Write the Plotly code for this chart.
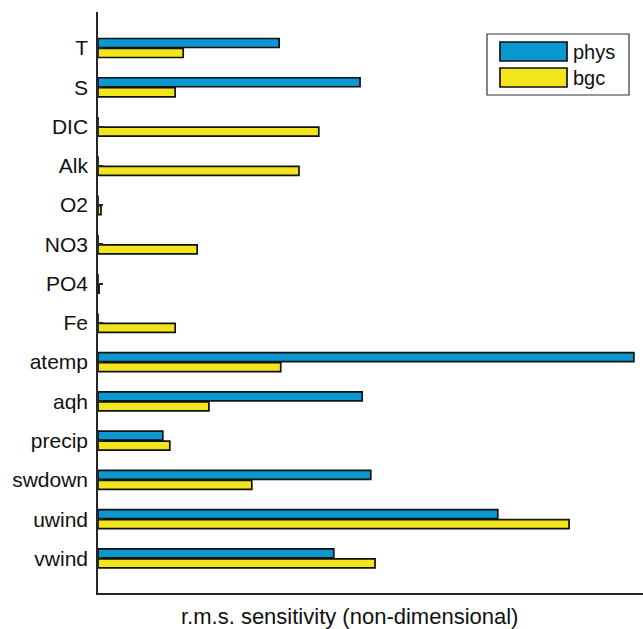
import plotly.graph_objects as go

# Control variables (top to bottom)
variables = ["T", "S", "DIC", "Alk", "O2", "NO3", "PO4", "Fe",
             "atemp", "aqh", "precip", "swdown", "uwind", "vwind"]

# r.m.s. sensitivity, non-dimensional (scaled so the largest is 1)
phys = [0.338, 0.489, 0.0, 0.0, 0.0, 0.0, 0.0, 0.0,
        1.000, 0.493, 0.121, 0.509, 0.746, 0.440]
bgc = [0.159, 0.144, 0.412, 0.375, 0.0056, 0.185, 0.002, 0.144,
       0.341, 0.207, 0.134, 0.287, 0.879, 0.517]

BLUE = "#0B97CF"
YELLOW = "#F2E51B"
FONT = "Liberation Sans, Arial, Helvetica, sans-serif"

fig = go.Figure()
fig.add_trace(go.Bar(y=variables, x=phys, orientation="h", name="phys",
                     marker=dict(color=BLUE, line=dict(color="#111111", width=1.7))))
fig.add_trace(go.Bar(y=variables, x=bgc, orientation="h", name="bgc",
                     marker=dict(color=YELLOW, line=dict(color="#111111", width=1.7))))

# Boxed legend drawn with shapes
legend_items = [("phys", BLUE), ("bgc", YELLOW)]
fig.add_shape(type="rect", xref="paper", yref="paper",
              x0=(487 - 98) / 545, x1=(629 - 98) / 545,
              y0=(593 - 95) / 581, y1=(593 - 34) / 581,
              line=dict(color="#333333", width=1.2), fillcolor="white")
for i, (name, col) in enumerate(legend_items):
    top = 42 + i * 26
    fig.add_shape(type="rect", xref="paper", yref="paper",
                  x0=(500 - 98) / 545, x1=(567 - 98) / 545,
                  y0=(593 - (top + 19)) / 581, y1=(593 - top) / 581,
                  line=dict(color="#111111", width=1.7), fillcolor=col)
    fig.add_annotation(xref="paper", yref="paper",
                       x=(571 - 98) / 545, y=(593 - (top + 9.5)) / 581,
                       text=name, showarrow=False, xanchor="left", yanchor="middle",
                       font=dict(family=FONT, size=20, color="#111111"))

# Horizontal axis caption
fig.add_annotation(xref="paper", yref="paper",
                   x=(349 - 98) / 545, y=(593 - 616) / 581,
                   text="r.m.s. sensitivity (non-dimensional)", showarrow=False,
                   xanchor="center", yanchor="middle",
                   font=dict(family=FONT, size=22, color="#111111"))

fig.update_layout(
    width=643, height=629,
    margin=dict(l=98, r=0, t=12, b=36),
    paper_bgcolor="white", plot_bgcolor="white",
    barmode="group", bargap=0.49, bargroupgap=0.1,
    showlegend=False,
    font=dict(family=FONT, size=20, color="#111111"),
)
fig.update_yaxes(
    type="category", range=[13.88, -0.917],
    showline=True, linecolor="#262626", linewidth=1.5,
    ticks="inside", ticklen=5, tickwidth=1.5, tickcolor="#262626",
    ticklabelstandoff=4,
    showgrid=False, zeroline=False,
    tickfont=dict(family=FONT, size=21, color="#111111"),
)
fig.update_xaxes(
    range=[0, 1.017],
    showline=True, linecolor="#262626", linewidth=1.5,
    showticklabels=False, ticks="", showgrid=False, zeroline=False,
)

fig.write_html("out.html")
